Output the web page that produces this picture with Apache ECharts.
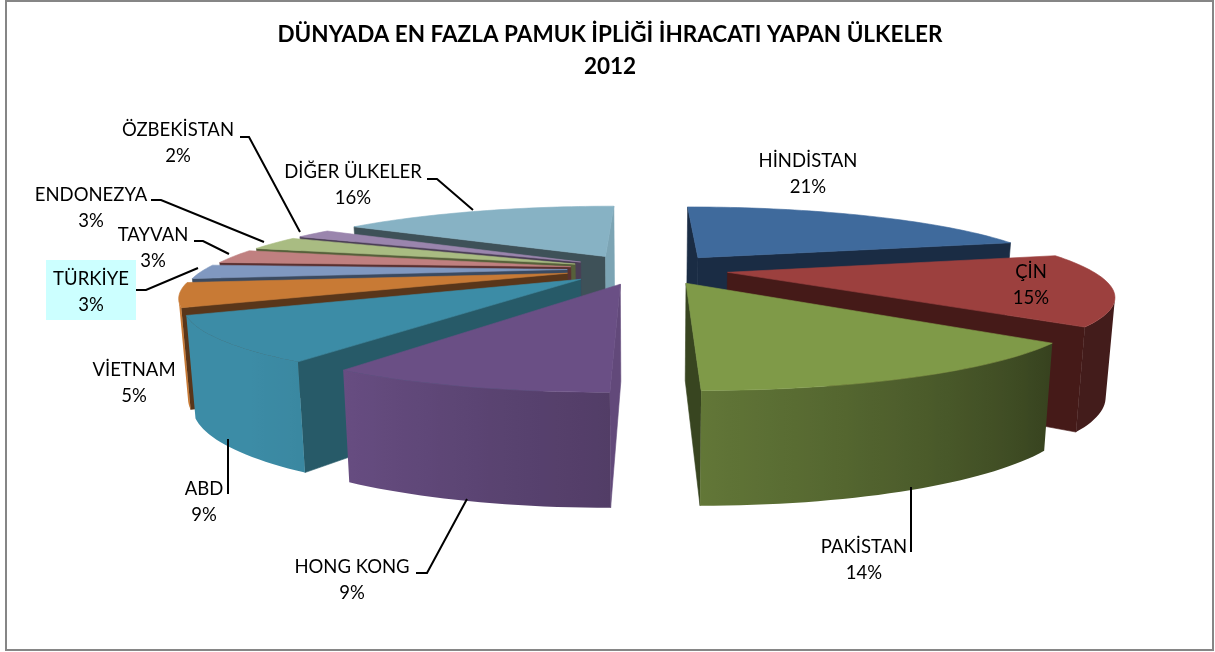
<!DOCTYPE html>
<html><head><meta charset="utf-8">
<style>html,body{margin:0;padding:0;background:#fff}#c{width:1215px;height:652px}</style>
<script src="https://cdn.jsdelivr.net/npm/echarts@6/dist/echarts.min.js"></script>
</head><body><div id="c"></div>
<script>
const categories=['HİNDİSTAN','ÇİN','PAKİSTAN','HONG KONG','ABD','VİETNAM','TÜRKİYE','TAYVAN','ENDONEZYA','ÖZBEKİSTAN','DİĞER ÜLKELER'];
const shares=[21,15,14,9,9,5,3,3,3,2,16];
const titleLines=['DÜNYADA EN FAZLA PAMUK İPLİĞİ İHRACATI YAPAN ÜLKELER','2012'];
const topColors=['#3f6a9c','#9c403e','#7f9a48','#6a4f85','#3c8ca6','#c87a35','#8098c0','#c08080','#a9bc82','#9a85ad','#87b2c4'];
const sideColors=['#1a2c44','#451a18','#384520','#4f3c60','#275a68','#59361a','#3b4a60','#5a3030','#56603a','#4a3e55','#3e5158'];
const explodeX=[.24,.225,.24,.25,.235,.225,.22,.215,.215,.215,.25];
// label layout: centre x, centre y
const labelPos=[[808,174],[1031,285],[864,560],[352,580],[204,502],[134,383],[91,292],[153,248],[91,208],[178,143],[353,185]];
const leaders=[
 [[240,137],[249,137],[300,232]],
 [[151,200],[161,200],[264,242]],
 [[194,241],[203,241],[229,254]],
 [[136,290],[146,290],[198,268]],
 [[427,179],[437,179],[473,210]],
 [[911,487],[911,552]],
 [[228,439],[228,494]],
 [[416,573],[427,573],[467,499]]
];
// camera
const cam={cx:647,cy:269,rx:362,ry:69.5,k:0.265,h:94.6,hp:0.52,explodeY:0.215,lean:0.02};
function project(X,Y,z){
  const s=1/(1-cam.k*Y);
  return [cam.cx+cam.rx*X*s*(1-cam.lean*z), cam.cy+cam.ry*Y*s+z*cam.h*Math.pow(s,cam.hp)];
}
function hex(c){return [1,3,5].map(i=>parseInt(c.substr(i,2),16));}
function shade(c,f){return 'rgb('+hex(c).map(v=>Math.round(Math.min(255,v*f))).join(',')+')';}
function wallLight(a){ // wall brightness by facing direction
  const t=[[0,.43],[130,.43],[180,.77],[212,.97],[222,1],[360,1]];
  for(let i=1;i<t.length;i++) if(a<=t[i][0]){
    const u=(a-t[i-1][0])/(t[i][0]-t[i-1][0]); return t[i-1][1]+u*(t[i][1]-t[i-1][1]);
  }
  return 1;
}
function area(p){let s=0;for(let i=0;i<p.length;i++){const q=p[(i+1)%p.length];s+=p[i][0]*q[1]-q[0]*p[i][1];}return s;}
const total=shares.reduce((a,b)=>a+b,0);
let run=0;
const sliceData=shares.map((v,i)=>{const d=[run,v,i];run+=v;return d;});
const depth=d=>-Math.cos((d[0]+d[1]/2)/total*2*Math.PI);
sliceData.sort((a,b)=>depth(a)-depth(b));

function renderSlice(params,api){
  const a0=api.value(0)/total*360, a1=a0+api.value(1)/total*360, idx=api.value(2);
  const mid=(a0+a1)/2*Math.PI/180;
  const ox=explodeX[idx]*Math.sin(mid), oy=-cam.explodeY*Math.cos(mid);
  const P=(deg,r)=>{const t=deg*Math.PI/180;return [ox+r*Math.sin(t),oy-r*Math.cos(t)];};
  const n=Math.max(2,Math.ceil((a1-a0)/1.5));
  const angs=[];for(let i=0;i<=n;i++)angs.push(a0+(a1-a0)*i/n);
  const T=p=>project(p[0],p[1],0), B=p=>project(p[0],p[1],1);
  const apex=[ox,oy], children=[];
  const poly=(pts,fill,stroke)=>children.push({type:'polygon',shape:{points:pts},style:{fill:fill,stroke:stroke||fill,lineWidth:0.6},silent:true});
  const quad=(p,q)=>[T(p),T(q),B(q),B(p)];
  // radial faces
  const nxS=-Math.cos(a0*Math.PI/180), nxE=Math.cos(a1*Math.PI/180);
  const qs=quad(apex,P(a0,1)), qe=quad(P(a1,1),apex);
  if(area(qs)<0) poly(qs, nxS>0.93?shade(topColors[idx],.92):sideColors[idx]);
  if(area(qe)<0) poly(qe, nxE>0.93?shade(topColors[idx],.92):sideColors[idx]);
  // outer wall: one polygon over the visible arc, with a gradient following the light
  const vis=[];
  for(let i=0;i<n;i++){ if(area(quad(P(angs[i],1),P(angs[i+1],1)))<0){ if(!vis.length)vis.push(angs[i]); vis.push(angs[i+1]); } }
  if(vis.length>1){
    const tops=vis.map(a=>T(P(a,1))), bots=vis.map(a=>B(P(a,1)));
    const xs=tops.map(p=>p[0]), x0=Math.min.apply(null,xs), x1=Math.max.apply(null,xs);
    const stops=[];
    vis.forEach((a,i)=>{ if(x1>x0) stops.push({offset:(xs[i]-x0)/(x1-x0),color:shade(topColors[idx],wallLight(a))}); });
    stops.sort((p,q)=>p.offset-q.offset);
    const fill=stops.length>1?new echarts.graphic.LinearGradient(x0,0,x1,0,stops,true):shade(topColors[idx],wallLight(vis[0]));
    children.push({type:'polygon',shape:{points:tops.concat(bots.reverse())},style:{fill:fill},silent:true});
  }
  // top
  poly([T(apex)].concat(angs.map(a=>T(P(a,1)))),topColors[idx]);
  return {type:'group',children:children};
}

const graphics=[{type:'rect',shape:{x:6,y:1,width:1207,height:649},style:{fill:'#fff',stroke:'#868686',lineWidth:2},z:-10}];
graphics.push({type:'rect',shape:{x:46,y:260,width:90,height:60},style:{fill:'#ccffff'},z:1});
leaders.forEach(l=>graphics.push({type:'polyline',shape:{points:l},style:{fill:null,stroke:'#000',lineWidth:2},z:5}));
categories.forEach((c,i)=>graphics.push({type:'text',x:labelPos[i][0],y:labelPos[i][1],z:6,
  style:{text:c+'\n'+shares[i]+'%',font:'18.5px Lato',fill:'#000',align:'center',verticalAlign:'middle',lineHeight:26.5}}));

const chart=echarts.init(document.getElementById('c'),null,{renderer:'canvas'});
chart.setOption({
  animation:false,backgroundColor:'#fff',
  title:{text:titleLines.join('\n'),left:605,top:14,textAlign:'center',
    textStyle:{fontFamily:'Lato',fontWeight:'bold',fontSize:22.5,lineHeight:32,color:'#000'}},
  graphic:graphics,
  series:[{type:'custom',coordinateSystem:'none',clip:false,silent:true,renderItem:renderSlice,data:sliceData,z:3}]
});
</script></body></html>
